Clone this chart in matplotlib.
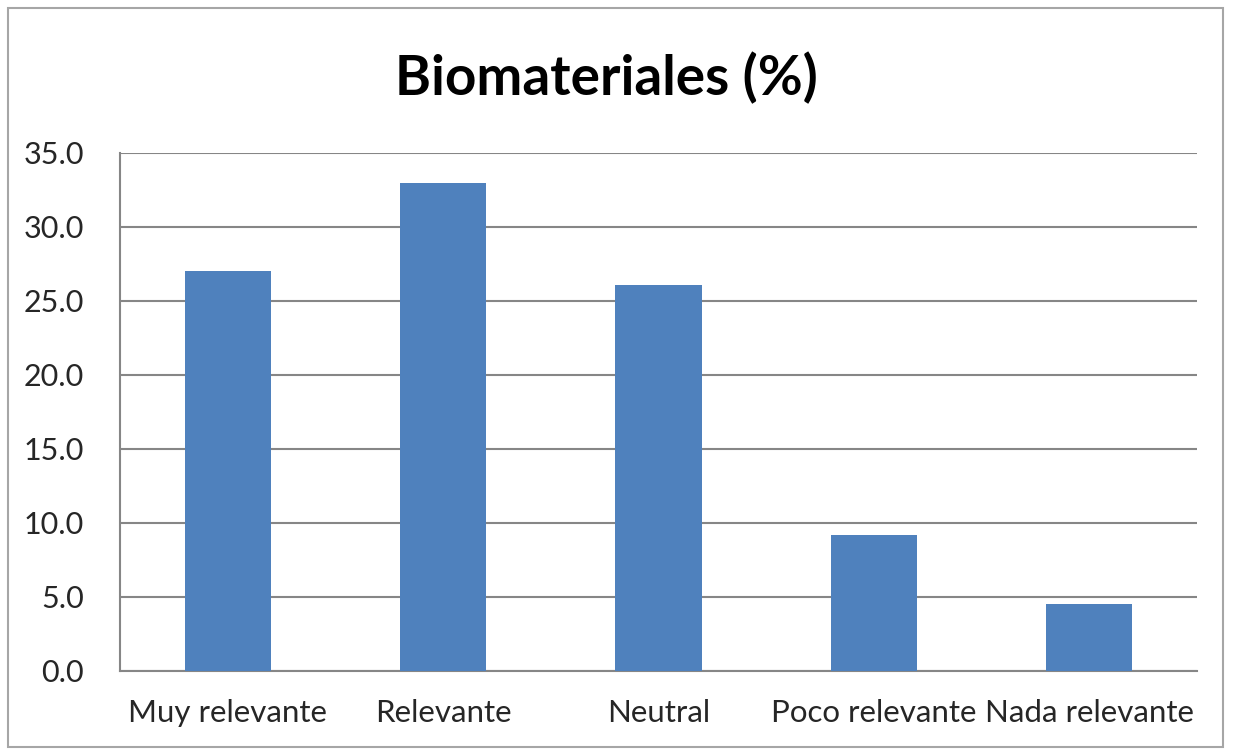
import matplotlib
matplotlib.use("Agg")
import matplotlib.pyplot as plt
from matplotlib.patches import Rectangle

categories = ["Muy relevante", "Relevante", "Neutral", "Poco relevante", "Nada relevante"]
values = [27.0, 33.0, 26.1, 9.2, 4.5]
yticks = [0.0, 5.0, 10.0, 15.0, 20.0, 25.0, 30.0, 35.0]
title = "Biomateriales (%)"

W, H = 1233, 753
fig = plt.figure(figsize=(W / 100, H / 100), dpi=100)
fig.patch.set_facecolor("white")

# outer chart frame
fig.patches.append(Rectangle((8 / W, 1 - 747 / H), (1223 - 8) / W, (747 - 8) / H,
                             transform=fig.transFigure, fill=False,
                             edgecolor="#a6a6a6", linewidth=1.5))

ax = fig.add_axes([120 / W, 1 - 671 / H, (1197 - 120) / W, (671 - 153) / H])
x = list(range(len(categories)))
ax.bar(x, values, width=0.4, color="#4F81BD", zorder=3)

ax.set_xlim(-0.5, len(categories) - 0.5)
ax.set_ylim(0, 35)
ax.set_yticks(yticks)
ax.set_yticklabels([f"{v:.1f}" for v in yticks])
ax.set_xticks(x)
ax.set_xticklabels(categories)

ax.grid(axis="y", color="#868686", linewidth=1.5, zorder=0)
for s in ["top", "right"]:
    ax.spines[s].set_visible(False)
ax.spines["left"].set_color("#868686")
ax.spines["left"].set_linewidth(1.5)
ax.spines["bottom"].set_color("#868686")
ax.spines["bottom"].set_linewidth(1.5)
ax.tick_params(axis="both", length=0, labelcolor="#262626")
ax.tick_params(axis="y", pad=26, labelsize=22)
ax.tick_params(axis="x", pad=20, labelsize=22.5)
for lab in ax.get_xticklabels() + ax.get_yticklabels():
    lab.set_fontfamily("Lato")

fig.text(606 / W, 1 - 78 / H, title, ha="center", va="center",
         fontsize=39.5, fontweight="bold", fontfamily="Lato", color="black")

fig.savefig("out.png", dpi=100)
